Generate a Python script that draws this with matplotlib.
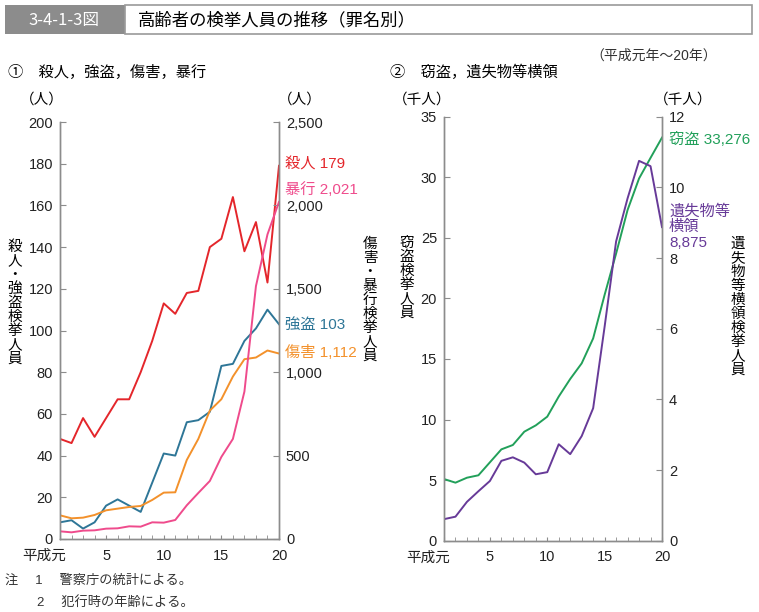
import matplotlib
matplotlib.use("Agg")
import matplotlib.pyplot as plt
from matplotlib.patches import Rectangle
from matplotlib.ticker import FuncFormatter
from matplotlib.transforms import ScaledTranslation

plt.rcParams['font.family'] = ['Liberation Sans', 'Noto Sans CJK JP', 'DejaVu Sans']

# === data (平成元年～20年) ===
years = list(range(1, 21))
murder = [48, 46, 58, 49, 58, 67, 67, 80, 95, 113, 108, 118, 119, 140, 144, 164, 138, 152, 123, 179]
robbery = [8, 9, 5, 8, 16, 19, 16, 13, 27, 41, 40, 56, 57, 61, 83, 84, 95, 101, 110, 103]
injury = [142, 124, 128, 144, 172, 182, 192, 198, 234, 278, 280, 474, 600, 770, 838, 974, 1078, 1088, 1130, 1112]
violence = [46, 40, 50, 52, 62, 64, 76, 74, 100, 98, 114, 202, 276, 348, 492, 600, 884, 1516, 1826, 2021]
larceny = [5.09, 4.79, 5.2, 5.4, 6.47, 7.54, 7.9, 9.0, 9.52, 10.24, 11.9, 13.35, 14.64, 16.7,
           20.3, 23.7, 27.3, 29.9, 31.6, 33.276]
embezzle = [0.61, 0.68, 1.10, 1.40, 1.69, 2.26, 2.36, 2.21, 1.88, 1.94, 2.73, 2.45, 2.96, 3.75,
            6.06, 8.47, 9.69, 10.75, 10.6, 8.875]
xlabels = ['平成元', '5', '10', '15', '20']

c_murder = '#e4262b'
c_violence = '#ef4b8c'
c_robbery = '#2e7697'
c_injury = '#f3912b'
c_larceny = '#22a05a'
c_embezzle = '#673a98'
grey = '#8c8c8c'

W, H = 759, 612
fig = plt.figure(figsize=(W / 100, H / 100), dpi=100)


def px(x, y):
    return x / W, 1 - y / H


def style_axes(ax, ax2):
    for a in (ax, ax2):
        a.spines['top'].set_visible(False)
        for s in ('left', 'right', 'bottom'):
            a.spines[s].set_color(grey)
            a.spines[s].set_linewidth(1.0)
        a.tick_params(direction='in', length=4, width=0.8, color=grey, labelsize=10.5,
                      labelcolor='#222222')
    ax.set_xlim(1, 20)
    ax.set_xticks([1, 5, 10, 15, 20])
    ax.set_xticklabels(xlabels)
    ax.set_xticks(years, minor=True)
    ax.tick_params(axis='x', which='both', direction='in', length=3, color=grey, pad=7)
    ax.tick_params(axis='y', pad=5)
    ax2.tick_params(axis='y', pad=5)
    # 平成元 sits a bit left of its tick
    lab = ax.get_xticklabels()[0]
    lab.set_transform(lab.get_transform() + ScaledTranslation(-16 / 100, 0, fig.dpi_scale_trans))


# === header ===
fig.patches.append(Rectangle(px(5, 34), 120 / W, 29 / H, transform=fig.transFigure,
                             facecolor='#8c8c8c', edgecolor='none'))
fig.patches.append(Rectangle(px(125, 34), 627 / W, 29 / H, transform=fig.transFigure,
                             facecolor='white', edgecolor='#9a9a9a', linewidth=1.2))
fig.text(*px(64, 20), '3-4-1-3図', color='white', fontsize=12, ha='center', va='center',
         family=['Liberation Sans Narrow', 'Noto Sans CJK JP'])
fig.text(*px(138, 20), '高齢者の検挙人員の推移（罪名別）', fontsize=12.5, ha='left', va='center')

fig.text(*px(8, 72), '①　殺人，強盗，傷害，暴行', fontsize=11, ha='left', va='center')
fig.text(*px(390, 72), '②　窃盗，遺失物等横領', fontsize=11, ha='left', va='center')
fig.text(*px(590, 56), '（平成元年～20年）', fontsize=10, ha='left', va='center', color='#333333')

# === panel 1 ===
ax1 = fig.add_axes([60 / W, 73 / H, 219 / W, 417 / H])
ax1b = ax1.twinx()
ax1.plot(years, murder, color=c_murder, lw=1.4)
ax1.plot(years, robbery, color=c_robbery, lw=1.4)
ax1b.plot(years, injury, color=c_injury, lw=1.4)
ax1b.plot(years, violence, color=c_violence, lw=1.4)
ax1.set_ylim(0, 200)
ax1.set_yticks(range(0, 201, 20))
ax1b.set_ylim(0, 2500)
ax1b.set_yticks(range(0, 2501, 500))
ax1b.yaxis.set_major_formatter(FuncFormatter(lambda v, p: f'{int(v):,}'))
style_axes(ax1, ax1b)

fig.text(*px(42, 100), '（人）', fontsize=10.5, ha='center', va='center')
fig.text(*px(300, 100), '（人）', fontsize=10.5, ha='center', va='center')
fig.text(*px(15, 303), '殺\n人\n・\n強\n盗\n検\n挙\n人\n員', fontsize=10.5, ha='center',
         va='center', linespacing=1.0)
fig.text(*px(370, 300), '傷\n害\n・\n暴\n行\n検\n挙\n人\n員', fontsize=10.5, ha='center',
         va='center', linespacing=1.0)

fig.text(*px(285, 165), f'殺人 {murder[-1]}', color=c_murder, fontsize=11, va='center')
fig.text(*px(285, 190), f'暴行 {violence[-1]:,}', color=c_violence, fontsize=11, va='center')
fig.text(*px(285, 325), f'強盗 {robbery[-1]}', color=c_robbery, fontsize=11, va='center')
fig.text(*px(285, 353), f'傷害 {injury[-1]:,}', color=c_injury, fontsize=11, va='center')

# === panel 2 ===
ax2 = fig.add_axes([444 / W, 71.3 / H, 218 / W, 424 / H])
ax2b = ax2.twinx()
ax2.plot(years, larceny, color=c_larceny, lw=1.4)
ax2b.plot(years, embezzle, color=c_embezzle, lw=1.4)
ax2.set_ylim(0, 35)
ax2.set_yticks(range(0, 36, 5))
ax2b.set_ylim(0, 12)
ax2b.set_yticks(range(0, 13, 2))
style_axes(ax2, ax2b)

fig.text(*px(422, 100), '（千人）', fontsize=10.5, ha='center', va='center')
fig.text(*px(683, 100), '（千人）', fontsize=10.5, ha='center', va='center')
fig.text(*px(407, 278), '窃\n盗\n検\n挙\n人\n員', fontsize=10.5, ha='center', va='center',
         linespacing=1.0)
fig.text(*px(738, 307), '遺\n失\n物\n等\n横\n領\n検\n挙\n人\n員', fontsize=10.5,
         ha='center', va='center', linespacing=1.0)

fig.text(*px(669, 139), f'窃盗 {int(larceny[-1] * 1000):,}', color=c_larceny, fontsize=11,
         va='center')
fig.text(*px(669, 227), f'遺失物等\n横領\n{int(embezzle[-1] * 1000):,}', color=c_embezzle,
         fontsize=11, va='center', linespacing=1.15)

# === notes ===
fig.text(*px(5, 581), '注　 1　 警察庁の統計による。', fontsize=9.5, va='center', color='#333333')
fig.text(*px(37, 602), '2　 犯行時の年齢による。', fontsize=9.5, va='center', color='#333333')

fig.savefig('out.png', dpi=100)
